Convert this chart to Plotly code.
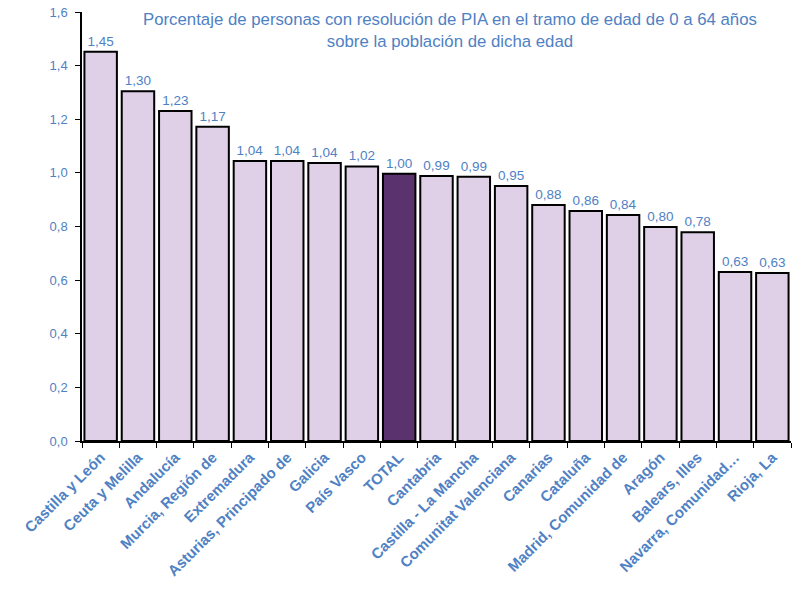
"""
    pia_resolucion_bar.py
"""
import plotly.graph_objects as go

regions = [
    "Castilla y León", "Ceuta y Melilla", "Andalucía", "Murcia, Región de",
    "Extremadura", "Asturias, Principado de", "Galicia", "País Vasco", "TOTAL",
    "Cantabria", "Castilla - La Mancha", "Comunitat Valenciana", "Canarias",
    "Cataluña", "Madrid, Comunidad de", "Aragón", "Balears, Illes",
    "Navarra, Comunidad…", "Rioja, La",
]
percentages = [
    1.452, 1.304, 1.231, 1.172, 1.044, 1.044, 1.037, 1.024, 0.997,
    0.988, 0.986, 0.951, 0.880, 0.858, 0.843, 0.798, 0.779, 0.630, 0.627,
]
y_ticks = [0.0, 0.2, 0.4, 0.6, 0.8, 1.0, 1.2, 1.4, 1.6]

BLUE = "#4F81C4"
LIGHT = "#DFD0E8"
DARK = "#5A336E"

bar_colors = [DARK if r == "TOTAL" else LIGHT for r in regions]

fig = go.Figure(
    go.Bar(
        x=regions,
        y=percentages,
        marker={"color": bar_colors, "line": {"color": "black", "width": 2}},
        texttemplate="%{y:.2f}",
        textposition="outside",
        constraintext="none",
        textfont={"color": BLUE, "size": 13.5},
        cliponaxis=False,
    )
)

fig.update_layout(
    width=795,
    height=590,
    margin={"l": 82, "r": 4, "t": 12, "b": 149},
    paper_bgcolor="white",
    plot_bgcolor="white",
    separators=",.",
    bargap=0.13,
    showlegend=False,
    font={"family": "Liberation Sans, Arial, sans-serif", "color": BLUE},
    xaxis={
        "automargin": False,
        "tickangle": -45,
        "tickfont": {"size": 15, "color": BLUE, "weight": "bold"},
        "ticks": "outside",
        "tickson": "boundaries",
        "ticklen": 5,
        "tickcolor": "black",
        "showline": True,
        "linecolor": "black",
        "linewidth": 1.5,
        "showgrid": False,
    },
    yaxis={
        "automargin": False,
        "range": [0, 1.6],
        "tickvals": y_ticks,
        "tickformat": ".1f",
        "tickfont": {"size": 13, "color": BLUE},
        "ticks": "outside",
        "ticklen": 5,
        "ticklabelstandoff": 5,
        "tickcolor": "black",
        "showline": True,
        "linecolor": "black",
        "linewidth": 1.5,
        "showgrid": False,
        "zeroline": False,
    },
    annotations=[
        {
            "text": "Porcentaje de personas con resolución de PIA en el tramo de edad de 0 a 64 años"
                    "<br>sobre la población de dicha edad",
            "xref": "paper",
            "yref": "paper",
            "x": 0.519,
            "y": 1.01,
            "xanchor": "center",
            "yanchor": "top",
            "showarrow": False,
            "font": {"size": 16.8, "color": BLUE},
        }
    ],
)

# page body has an 8px default margin; drop it so the figure sits at 0,0
fig.write_html(
    "out.html",
    config={"displayModeBar": False},
    post_script="document.body.style.margin = '0';",
)
